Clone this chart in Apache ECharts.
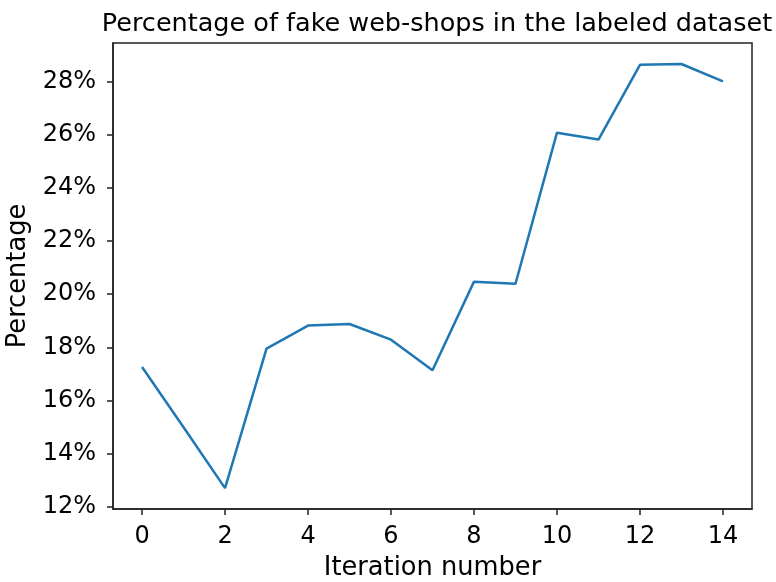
<!DOCTYPE html>
<html>
<head>
<meta charset="utf-8">
<script src="https://cdn.jsdelivr.net/npm/echarts@6/dist/echarts.min.js"></script>
<style>
  html, body { margin: 0; padding: 0; background: #fff; }
  #chart { width: 776px; height: 582px; }
</style>
</head>
<body>
<div id="chart"></div>
<script>
  // iteration index and share of fake web-shops (%)
  var iterations = [0, 1, 2, 3, 4, 5, 6, 7, 8, 9, 10, 11, 12, 13, 14];
  var fakeShare = [17.26, 15.0, 12.71, 17.95, 18.82, 18.88, 18.29, 17.14, 20.47, 20.39, 26.07, 25.81, 28.62, 28.65, 28.0];

  var xTicks = [0, 2, 4, 6, 8, 10, 12, 14];
  var yTicks = [12, 14, 16, 18, 20, 22, 24, 26, 28];

  var font = 'DejaVu Sans';
  var ink = '#222';

  var points = iterations.map(function (it, i) { return [it, fakeShare[i]]; });

  var chart = echarts.init(document.getElementById('chart'));

  chart.setOption({
    backgroundColor: '#fff',
    animation: false,
    title: {
      text: 'Percentage of fake web-shops in the labeled dataset',
      left: 432,
      textAlign: 'center',
      top: 6,
      textStyle: { fontFamily: font, fontSize: 25.5, fontWeight: 'normal', color: '#000' }
    },
    grid: {
      left: 113,
      right: 24,
      top: 43,
      bottom: 73,
      show: true,
      borderColor: ink,
      borderWidth: 1.5,
      backgroundColor: 'transparent',
      outerBoundsMode: 'none'
    },
    xAxis: {
      type: 'value',
      min: -0.7,
      max: 14.7,
      name: 'Iteration number',
      nameLocation: 'middle',
      nameGap: 46,
      nameTextStyle: { fontFamily: font, fontSize: 25.7, color: '#000' },
      axisLine: { show: true, onZero: false, lineStyle: { color: ink, width: 1.5 } },
      axisTick: { show: true, length: 6, lineStyle: { color: ink, width: 1.5 }, customValues: xTicks },
      axisLabel: { fontFamily: font, fontSize: 24, color: '#000', margin: 16, customValues: xTicks },
      splitLine: { show: false }
    },
    yAxis: {
      type: 'value',
      min: 11.925,
      max: 29.44,
      name: 'Percentage',
      nameLocation: 'middle',
      nameGap: 77,
      nameTextStyle: { fontFamily: font, fontSize: 25.7, color: '#000' },
      axisLine: { show: true, onZero: false, lineStyle: { color: ink, width: 1.5 } },
      axisTick: { show: true, length: 6, lineStyle: { color: ink, width: 1.5 }, customValues: yTicks },
      axisLabel: {
        fontFamily: font, fontSize: 24, color: '#000', margin: 17, customValues: yTicks,
        formatter: function (v) { return v + '%'; }
      },
      splitLine: { show: false }
    },
    series: [{
      type: 'line',
      data: points,
      showSymbol: false,
      symbol: 'none',
      lineStyle: { color: '#1f77b4', width: 2.5 },
      itemStyle: { color: '#1f77b4' }
    }]
  });
</script>
</body>
</html>
